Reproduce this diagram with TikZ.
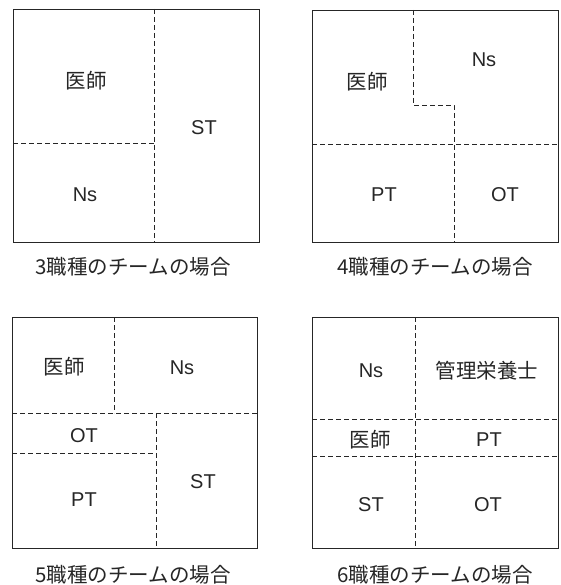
\documentclass[tikz,border=0pt]{standalone}
\usepackage{fontspec}
\setmainfont{Liberation Sans}
\newfontfamily\jpfont{Noto Sans CJK JP}
\begin{document}
\begin{tikzpicture}[x=1pt,y=-1pt,
  frame/.style={draw=black!85, line width=0.9pt},
  divider/.style={draw=black!85, line width=0.9pt, dash pattern=on 5pt off 3pt},
  lat/.style={font=\fontsize{20}{20}\selectfont, inner sep=0pt, text=black!85},
  jp/.style={font=\jpfont\fontsize{20.5}{20.5}\selectfont, inner sep=0pt, text=black!85},
  caption/.style={font=\jpfont\fontsize{20.5}{20.5}\selectfont, inner sep=0pt, text=black!85}]
\useasboundingbox (0,0) rectangle (560,585);

% Panel 1
\draw[frame] (13,9) rectangle (259,242);
\draw[divider] (154,9) -- (154,242);
\draw[divider] (13,143) -- (154,143);
\node[jp]  (a1) at (86,81)  {医師};
\node[lat] (a2) at (204,128) {ST};
\node[lat] (a3) at (85,195) {Ns};
\node[caption] (acap) at (133,267) {3職種のチームの場合};

% Panel 2
\draw[frame] (312,10) rectangle (558,242);
\draw[divider] (413,10) -- (413,105) -- (454,105) -- (454,242);
\draw[divider] (312,144) -- (558,144);
\node[jp]  (b1) at (367,82)  {医師};
\node[lat] (b2) at (484,60)  {Ns};
\node[lat] (b3) at (384,195) {PT};
\node[lat] (b4) at (505,195) {OT};
\node[caption] (bcap) at (435,267) {4職種のチームの場合};

% Panel 3
\draw[frame] (12,317) rectangle (257,548);
\draw[divider] (114,317) -- (114,413);
\draw[divider] (12,413) -- (257,413);
\draw[divider] (156,413) -- (156,548);
\draw[divider] (12,453) -- (156,453);
\node[jp]  (c1) at (64,367)  {医師};
\node[lat] (c2) at (182,368) {Ns};
\node[lat] (c3) at (84,436)  {OT};
\node[lat] (c4) at (84,500)  {PT};
\node[lat] (c5) at (203,482) {ST};
\node[caption] (ccap) at (133,575) {5職種のチームの場合};

% Panel 4
\draw[frame] (312,317) rectangle (558,548);
\draw[divider] (415,317) -- (415,548);
\draw[divider] (312,419) -- (558,419);
\draw[divider] (312,456) -- (558,456);
\node[lat] (d1) at (371,371) {Ns};
\node[jp]  (d2) at (487,371) {管理栄養士};
\node[jp]  (d3) at (370,440) {医師};
\node[lat] (d4) at (489,440) {PT};
\node[lat] (d5) at (371,505) {ST};
\node[lat] (d6) at (488,505) {OT};
\node[caption] (dcap) at (435,575) {6職種のチームの場合};
\end{tikzpicture}
\end{document}
